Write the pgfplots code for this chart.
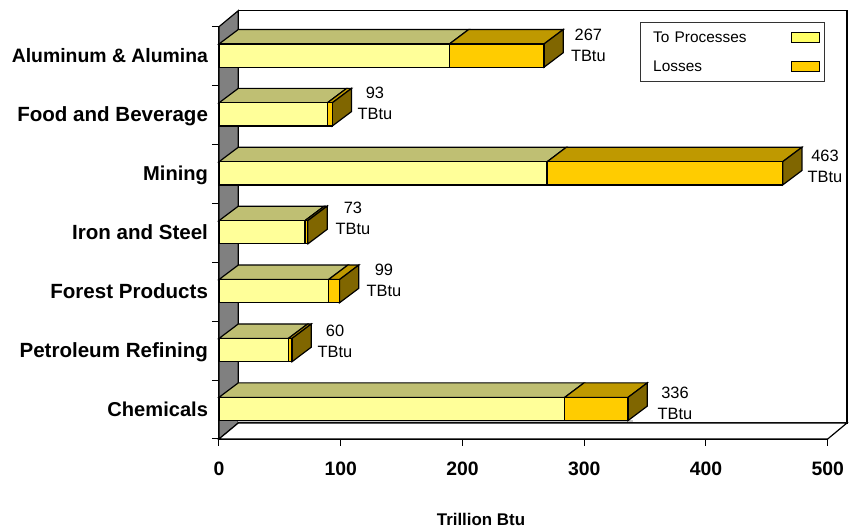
\documentclass[border=0pt]{standalone}
\usepackage{pgfplots}
\pgfplotsset{compat=1.18}
\usepackage{fontspec}
\setmainfont{Liberation Sans}
\definecolor{yf}{HTML}{FFFF99}
\definecolor{yl}{HTML}{FFFF66}
\definecolor{yt}{HTML}{BFBF73}
\definecolor{of}{HTML}{FFCC00}
\definecolor{ot}{HTML}{BF9900}
\definecolor{sd}{HTML}{806600}
\definecolor{wl}{HTML}{808080}
\newcommand\cfont{\fontsize{19.4}{22}\selectfont\bfseries}
\newcommand\wfont{\fontsize{20.55}{22}\selectfont}
\newcommand\kfont{\fontsize{20.1}{22}\selectfont}
\newcommand\vfont{\fontsize{16.4}{21}\selectfont}
\newcommand\tdbar[3]{%
  \pgfmathsetmacro\ylo{#1+0.51-0.197}%
  \pgfmathsetmacro\yhi{#1+0.51+0.197}%
  \pgfmathsetmacro\ybk{\yhi+0.246}%
  \pgfmathsetmacro\ylb{\ylo+0.246}%
  \pgfmathsetmacro\xa{#2+15.85}%
  \pgfmathsetmacro\xb{#3+15.85}%
  \addplot[draw=black,line width=1.2pt,fill=yt,forget plot] coordinates {(0,\yhi) (15.85,\ybk) (\xa,\ybk) (#2,\yhi)} -- cycle;
  \addplot[draw=black,line width=1.2pt,fill=ot,forget plot] coordinates {(#2,\yhi) (\xa,\ybk) (\xb,\ybk) (#3,\yhi)} -- cycle;
  \addplot[draw=black,line width=1.2pt,fill=sd,forget plot] coordinates {(#3,\ylo) (\xb,\ylb) (\xb,\ybk) (#3,\yhi)} -- cycle;
  \addplot[draw=black,line width=1.2pt,fill=yf,forget plot] coordinates {(0,\ylo) (#2,\ylo) (#2,\yhi) (0,\yhi)} -- cycle;
  \addplot[draw=black,line width=1.2pt,fill=of,forget plot] coordinates {(#2,\ylo) (#3,\ylo) (#3,\yhi) (#2,\yhi)} -- cycle;
}
\begin{document}
\begin{tikzpicture}
\path[use as bounding box] (-219pt,-90pt) rectangle (630pt,439pt);
\begin{axis}[
  anchor=origin, at={(0pt,0pt)},
  scale only axis, width=608.7pt, height=412.3pt,
  xmin=0, xmax=500, ymin=0, ymax=7,
  clip=false,
  axis x line*=bottom, axis y line*=left,
  axis line style={-,line width=1.2pt},
  tick style={black,line width=1pt},
  tick align=outside, major tick length=7pt,
  xtick={0,100,200,300,400,500},
  xticklabels={0,100,200,300,400,500},
  xticklabel style={font=\cfont,yshift=-12pt},
  ytick={0,1,2,3,4,5,6,7}, yticklabels={},
  extra y ticks={0.51,1.51,2.51,3.51,4.51,5.51,6.51},
  extra y tick labels={{\kfont Chemicals},{\wfont Petroleum Refining},{\wfont Forest Products},{\wfont Iron and Steel},{\kfont Mining},{\wfont Food and Beverage},Aluminum \& Alumina},
  extra y tick style={major tick length=0pt,yticklabel style={font=\cfont,xshift=-7.5pt,yshift=-7.3pt,text height=10pt,text depth=10pt}},
  xlabel={Trillion Btu},
  xlabel style={font=\fontsize{16.9}{18}\selectfont\bfseries,at={(0.4304,-0.194)},anchor=center},
  legend image code/.code={\draw[line width=1pt,#1] (-3pt,-5pt) rectangle (24.5pt,5pt);},
  legend plot pos=right,
  legend cell align=left,
  legend style={at={(rel axis cs:1,1)},anchor=north east,xshift=-2.5pt,yshift=4.5pt,
    draw=black!80,line width=0.9pt,fill=white,font=\fontsize{15.4}{18}\selectfont,
    row sep=13pt,inner xsep=5pt,inner ysep=7pt,
    nodes={text width=142pt}},
]
% walls
\addplot[draw=black,line width=1.2pt,fill=white,forget plot] coordinates {(15.85,0.272) (515.85,0.272) (515.85,7.272) (15.85,7.272)} -- cycle;
\addplot[draw=black,line width=1.2pt,fill=wl,forget plot] coordinates {(0,0) (15.85,0.272) (15.85,7.272) (0,7)} -- cycle;
\addplot[draw=black,line width=1.2pt,fill=white,forget plot] coordinates {(0,0) (500,0) (515.85,0.272) (15.85,0.272)} -- cycle;
\addplot[draw=none,fill=black!22,forget plot] coordinates {(15.85,0.285) (340,0.285) (340,0.315) (15.85,0.315)} -- cycle;
% bars: lower index, to processes, total
\tdbar{6}{189.3}{267}
\tdbar{5}{89}{93}
\tdbar{4}{269.5}{463}
\tdbar{3}{70.6}{73}
\tdbar{2}{90}{99}
\tdbar{1}{57}{60}
\tdbar{0}{284}{336}
% value labels
\node[font=\vfont,align=center] at (axis cs:303.4,6.689) {267\\TBtu};
\node[font=\vfont,align=center] at (axis cs:128.1,5.696) {93\\TBtu};
\node[font=\vfont,align=center] at (axis cs:497.8,4.635) {463\\TBtu};
\node[font=\vfont,align=center] at (axis cs:110,3.752) {73\\TBtu};
\node[font=\vfont,align=center] at (axis cs:135.5,2.70) {99\\TBtu};
\node[font=\vfont,align=center] at (axis cs:95.3,1.664) {60\\TBtu};
\node[font=\vfont,align=center] at (axis cs:374.6,0.611) {336\\TBtu};
\addlegendimage{draw=black,fill=yl}
\addlegendentry{\hspace{6pt}To Processes}
\addlegendimage{draw=black,fill=of}
\addlegendentry{\hspace{6pt}Losses}
\end{axis}
\end{tikzpicture}
\end{document}
